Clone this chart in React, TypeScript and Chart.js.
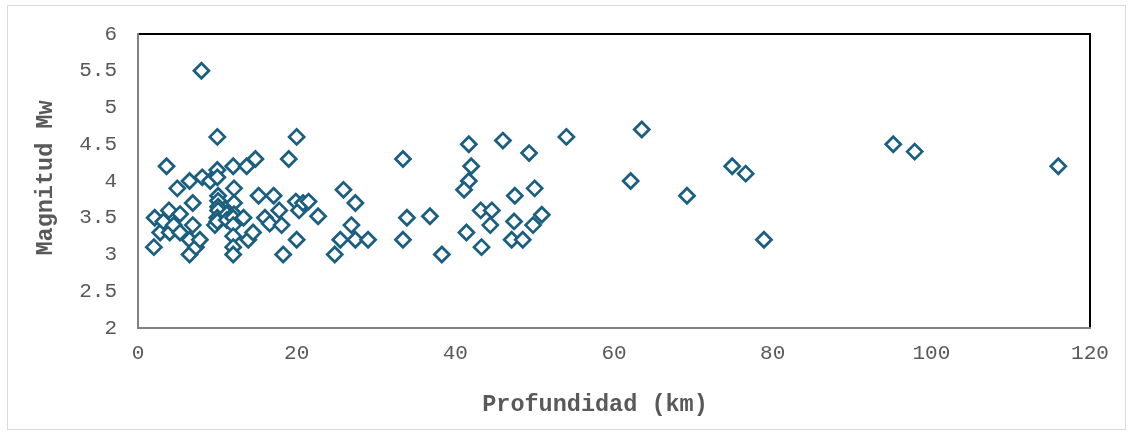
import React, { useEffect, useRef } from "react";
import { Chart, registerables } from "chart.js";

Chart.register(...registerables);

const depthKm: number[] = [
  2.0, 2.1, 2.8, 3.2, 3.6, 3.9, 4.0, 4.5, 4.95, 5.3, 5.3, 6.5, 6.5, 6.5, 6.9, 6.9, 7.3, 7.8,
  8.0, 8.1, 9.1, 9.7, 10.0, 10.0, 10.0, 10.1, 10.1, 10.1, 10.1, 10.0, 10.0, 11.2, 11.2,
  12.0, 12.1, 12.1, 12.1, 12.0, 12.0, 12.0, 12.0, 12.0, 13.3, 13.7, 13.9, 14.5, 14.8,
  15.2, 16.0, 16.6, 17.1, 17.8, 18.1, 18.3, 19.0, 19.9, 20.0, 20.0, 20.3, 20.8, 21.5,
  22.7, 24.8, 25.5, 25.9, 26.9, 27.4, 27.4, 29.0,
  33.4, 33.9, 33.4, 36.8, 38.3, 41.7, 42.0, 41.7, 41.1, 41.4, 43.2, 43.3, 44.6, 44.4,
  46.0, 47.5, 47.4, 47.1, 48.5, 49.3, 49.8, 50.0, 50.9, 54.0,
  62.1, 63.5, 69.2, 74.9, 76.6, 78.9, 95.2, 97.9, 116.0,
];

const magnitudeMw: number[] = [
  3.1, 3.5, 3.3, 3.45, 4.2, 3.6, 3.3, 3.4, 3.9, 3.55, 3.3, 4.0, 3.2, 3.0, 3.7, 3.4, 3.1, 3.2,
  5.5, 4.05, 4.0, 3.4, 4.6, 4.15, 4.05, 3.8, 3.73, 3.65, 3.6, 3.5, 3.45, 3.55, 3.47,
  4.2, 3.9, 3.7, 3.55, 3.5, 3.4, 3.25, 3.1, 3.0, 3.5, 4.2, 3.2, 3.3, 4.3,
  3.8, 3.5, 3.42, 3.8, 3.6, 3.4, 3.0, 4.3, 3.72, 4.6, 3.2, 3.6, 3.7, 3.72,
  3.52, 3.0, 3.2, 3.88, 3.4, 3.7, 3.2, 3.2,
  4.3, 3.5, 3.2, 3.52, 3.0, 4.5, 4.2, 4.0, 3.88, 3.3, 3.6, 3.1, 3.6, 3.4,
  4.55, 3.8, 3.45, 3.2, 3.2, 4.38, 3.4, 3.9, 3.54, 4.6,
  4.0, 4.7, 3.8, 4.2, 4.1, 3.2, 4.5, 4.4, 4.2,
];

const xTitle = "Profundidad (km)";
const yTitle = "Magnitud Mw";

const MONO = '"Liberation Mono", "Courier New", monospace';
const GRAY = "#595959";
const MARK = "#1a5e80";

const framePlugin = {
  id: "frame",
  beforeDatasetsDraw(chart: any) {
    const { ctx, chartArea: a } = chart;
    ctx.save();
    ctx.strokeStyle = "#000000";
    ctx.lineWidth = 2;
    ctx.beginPath();
    ctx.moveTo(a.left, a.top);
    ctx.lineTo(a.right, a.top);
    ctx.lineTo(a.right, a.bottom);
    ctx.stroke();
    ctx.strokeStyle = "#808080";
    ctx.beginPath();
    ctx.moveTo(a.left, a.top - 1);
    ctx.lineTo(a.left, a.bottom);
    ctx.lineTo(a.right + 1, a.bottom);
    ctx.stroke();
    ctx.restore();
  },
  afterDraw(chart: any) {
    const { ctx } = chart;
    ctx.save();
    ctx.strokeStyle = "#d9d9d9";
    ctx.lineWidth = 1;
    ctx.strokeRect(7.5, 5.5, 1118, 424);
    ctx.fillStyle = GRAY;
    ctx.font = `bold 23.5px ${MONO}`;
    ctx.textAlign = "center";
    ctx.textBaseline = "middle";
    ctx.fillText(xTitle, 595, 405);
    ctx.translate(46, 178);
    ctx.rotate(-Math.PI / 2);
    ctx.fillText(yTitle, 0, 0);
    ctx.restore();
  },
};

export default function App() {
  const ref = useRef<HTMLCanvasElement | null>(null);
  useEffect(() => {
    document.body.style.margin = "0";
    const canvas = ref.current;
    if (!canvas) return;
    const points = depthKm.map((x, i) => ({ x, y: magnitudeMw[i] }));
    const chart = new Chart(canvas, {
      type: "scatter",
      data: {
        datasets: [
          {
            data: points,
            pointStyle: "rectRot",
            pointRadius: 7.5,
            pointHoverRadius: 7.5,
            pointBorderWidth: 2.75,
            borderColor: MARK,
            backgroundColor: "#ffffff",
          },
        ],
      },
      options: {
        animation: false,
        responsive: false,
        events: [],
        layout: { padding: { top: 34, right: 42, left: 0, bottom: 0 } },
        plugins: { legend: { display: false }, tooltip: { enabled: false } },
        scales: {
          x: {
            type: "linear",
            min: 0,
            max: 120,
            afterFit(scale: any) {
              scale.height = 105;
            },
            grid: { display: false, drawTicks: false },
            border: { display: false },
            ticks: {
              stepSize: 20,
              padding: 13,
              color: GRAY,
              font: { family: MONO, size: 21 },
              maxRotation: 0,
              callback: (v: any) => String(v),
            },
          },
          y: {
            type: "linear",
            min: 2,
            max: 6,
            afterFit(scale: any) {
              scale.width = 138;
            },
            grid: { display: false, drawTicks: false },
            border: { display: false },
            ticks: {
              stepSize: 0.5,
              padding: 21,
              color: GRAY,
              font: { family: MONO, size: 21 },
              callback: (v: any) => String(v),
            },
          },
        },
      },
      plugins: [framePlugin],
    });
    return () => chart.destroy();
  }, []);
  return <canvas ref={ref} width={1132} height={433} style={{ display: "block" }} />;
}
